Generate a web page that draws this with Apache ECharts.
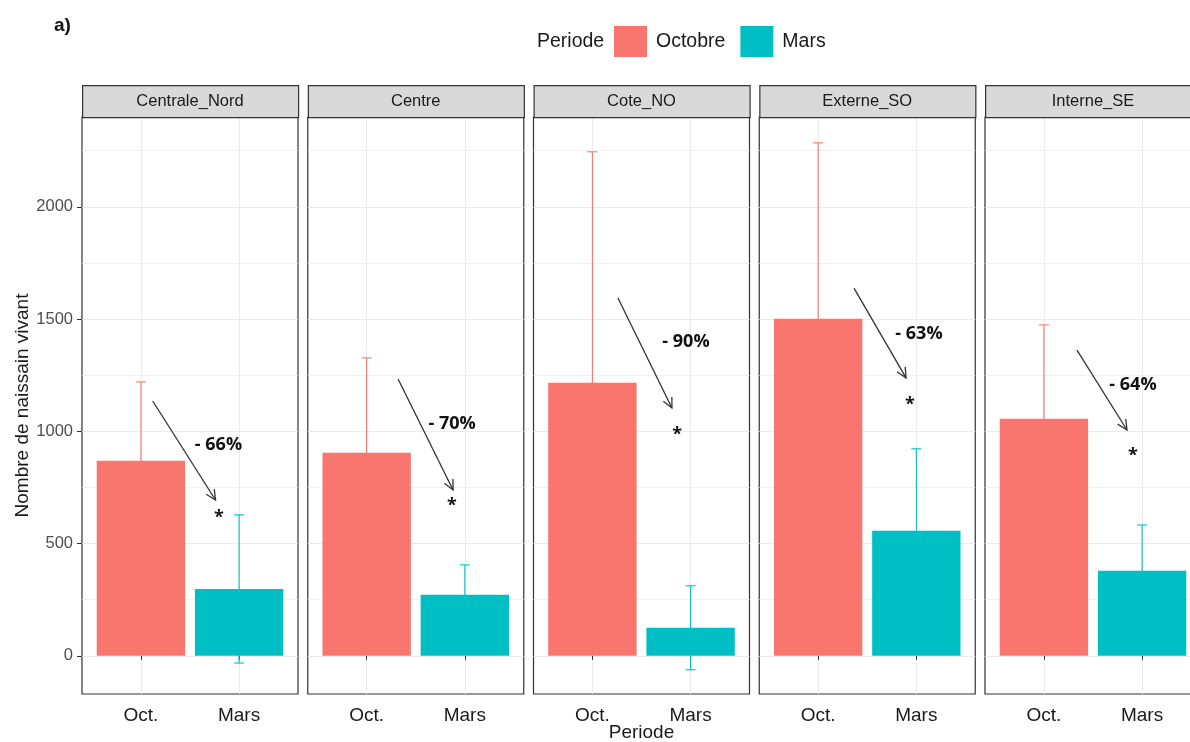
<!DOCTYPE html>
<html><head><meta charset="utf-8">
<script src="https://cdn.jsdelivr.net/npm/echarts@6/dist/echarts.min.js"></script>
<style>html,body{margin:0;padding:0;background:#fff}#c{width:1190px;height:742px}</style>
</head><body><div id="c"></div>
<script>
// ---- data ----
const regions = ['Centrale_Nord', 'Centre', 'Cote_NO', 'Externe_SO', 'Interne_SE'];
const periods = ['Octobre', 'Mars'];
const xLabels = ['Oct.', 'Mars'];
const octMean = [869, 904, 1216, 1501, 1056];
const octErr = [351, 423, 1029, 784, 418];
const marsMean = [298, 272, 125, 557, 379];
const marsErr = [330, 133, 187, 365, 204];
const yTicks = [0, 500, 1000, 1500, 2000];
const yMinor = [250, 750, 1250, 1750, 2250];
const pctLabels = ['- 66%', '- 70%', '- 90%', '- 63%', '- 64%'];
const arrowFrom = [[1.12, 1135], [1.32, 1233], [1.26, 1594], [1.365, 1638], [1.337, 1362]];
const arrowTo = [[1.76, 694], [1.88, 739], [1.81, 1104], [1.895, 1238], [1.846, 1006]];
const pctPos = [[1.79, 939], [1.87, 1033], [1.953, 1398], [2.027, 1433], [1.907, 1206]];
const starPos = [[1.795, 614], [1.869, 667], [1.862, 983], [1.935, 1117], [1.907, 890]];

// ---- style / layout ----
const colors = ['#F8766D', '#00BFC4'];
const FONT = 'Liberation Sans';
const BOLD = 'Open Sans';
const gLeft0 = 82, gStep = 225.75, gW = 216, gTop = 117, gH = 577;
const stripTop = 85, stripH = 32;
const yMin = -170, yMax = 2400, xMin = 0.4, xMax = 2.6;
const barW = 0.9 * gW / (xMax - xMin);

const chart = echarts.init(document.getElementById('c'), null, {renderer: 'canvas'});

const grids = [], xAxes = [], yAxes = [], seriesList = [], graphics = [];

regions.forEach((r, i) => {
  const L = gLeft0 + gStep * i;
  grids.push({left: L, top: gTop, width: gW, height: gH, show: true,
    borderColor: '#333333', borderWidth: 1.2, backgroundColor: '#ffffff',
    containLabel: false, outerBoundsMode: 'none'});
  xAxes.push({type: 'value', gridIndex: i, min: xMin, max: xMax,
    axisLine: {show: false},
    axisTick: {show: true, customValues: [1, 2], length: 4, lineStyle: {color: '#333333'}},
    axisLabel: {show: true, customValues: [1, 2], margin: 12,
      formatter: v => xLabels[Math.round(v) - 1],
      fontSize: 19, color: '#1a1a1a', fontFamily: FONT},
    splitLine: {show: true, lineStyle: {color: '#ebebeb', width: 1.1}}
  });
  yAxes.push({type: 'value', gridIndex: i, min: yMin, max: yMax,
    axisLine: {show: false},
    axisTick: {show: i === 0, customValues: yTicks, length: 5, lineStyle: {color: '#333333'}},
    axisLabel: {show: i === 0, customValues: yTicks, margin: 9, fontSize: 16.5, color: '#4d4d4d',
      fontFamily: FONT, formatter: v => String(v)},
    splitLine: {show: true, lineStyle: {color: '#ebebeb', width: 1.1}},
    name: i === 0 ? 'Nombre de naissain vivant' : '', nameLocation: 'middle', nameGap: 48,
    nameTextStyle: {fontSize: 19, color: '#1a1a1a', fontFamily: FONT}
  });
  yAxes.push({type: 'value', gridIndex: i, min: yMin, max: yMax,
    axisLine: {show: false},
    axisTick: {show: false, customValues: yMinor},
    axisLabel: {show: false, customValues: yMinor},
    splitLine: {show: true, lineStyle: {color: '#ededed', width: 0.8}}
  });

  // error bars (under bars)
  seriesList.push({type: 'custom', xAxisIndex: i, yAxisIndex: 2 * i, z: 1, silent: true,
    data: [[1, octMean[i] - octErr[i], octMean[i] + octErr[i], 0],
           [2, marsMean[i] - marsErr[i], marsMean[i] + marsErr[i], 1]],
    encode: {x: 0, y: [1, 2]},
    renderItem: (params, api) => {
      const x = api.value(0), lo = api.value(1), hi = api.value(2), ci = api.value(3);
      const t = api.coord([x, hi]), b = api.coord([x, lo]);
      const c = colors[ci], cap = 5, lw = 1.1;
      return {type: 'group', children: [
        {type: 'line', shape: {x1: t[0], y1: t[1], x2: b[0], y2: b[1]}, style: {stroke: c, lineWidth: lw}},
        {type: 'line', shape: {x1: t[0] - cap, y1: t[1], x2: t[0] + cap, y2: t[1]}, style: {stroke: c, lineWidth: lw}},
        {type: 'line', shape: {x1: b[0] - cap, y1: b[1], x2: b[0] + cap, y2: b[1]}, style: {stroke: c, lineWidth: lw}}
      ]};
    }
  });
  seriesList.push({type: 'bar', name: periods[0], xAxisIndex: i, yAxisIndex: 2 * i, z: 2,
    data: [[1, octMean[i]]], barWidth: barW, barGap: '-100%', itemStyle: {color: colors[0]}});
  seriesList.push({type: 'bar', name: periods[1], xAxisIndex: i, yAxisIndex: 2 * i, z: 2,
    data: [[2, marsMean[i]]], barWidth: barW, barGap: '-100%', itemStyle: {color: colors[1]}});
  // annotation
  seriesList.push({type: 'custom', xAxisIndex: i, yAxisIndex: 2 * i, z: 5, silent: true,
    data: [[arrowFrom[i][0], arrowFrom[i][1], arrowTo[i][0], arrowTo[i][1],
            pctPos[i][0], pctPos[i][1], starPos[i][0], starPos[i][1]]],
    encode: {x: [0, 2, 4, 6], y: [1, 3, 5, 7]},
    renderItem: (params, api) => {
      const p1 = api.coord([api.value(0), api.value(1)]);
      const p2 = api.coord([api.value(2), api.value(3)]);
      const pt = api.coord([api.value(4), api.value(5)]);
      const ps = api.coord([api.value(6), api.value(7)]);
      const ang = Math.atan2(p2[1] - p1[1], p2[0] - p1[0]);
      const hl = 11, ha = 0.45;
      const h1 = [p2[0] - hl * Math.cos(ang - ha), p2[1] - hl * Math.sin(ang - ha)];
      const h2 = [p2[0] - hl * Math.cos(ang + ha), p2[1] - hl * Math.sin(ang + ha)];
      const st = {stroke: '#333333', lineWidth: 1.3};
      return {type: 'group', children: [
        {type: 'line', shape: {x1: p1[0], y1: p1[1], x2: p2[0], y2: p2[1]}, style: st},
        {type: 'polyline', shape: {points: [h1, p2, h2]}, style: Object.assign({fill: null}, st)},
        {type: 'text', x: pt[0], y: pt[1], style: {text: pctLabels[i], fill: '#111111',
          font: 'bold 18px "' + BOLD + '"', align: 'center', verticalAlign: 'middle'}},
        {type: 'text', x: ps[0], y: ps[1], style: {text: '*', fill: '#111111',
          font: 'bold 18px "' + BOLD + '"', align: 'center', verticalAlign: 'middle'}}
      ]};
    }
  });

  // facet strip
  graphics.push({type: 'rect', left: L, top: stripTop, shape: {width: gW, height: stripH},
    style: {fill: '#d9d9d9', stroke: '#333333', lineWidth: 1.2}, z: 10});
  graphics.push({type: 'text', x: L + gW / 2, y: stripTop + stripH / 2,
    style: {text: r, fill: '#1a1a1a', font: '16.5px "' + FONT + '"', align: 'center', verticalAlign: 'middle'}, z: 11});
});

graphics.push({type: 'text', x: 54, y: 26, style: {text: 'a)', fill: '#111111',
  font: 'bold 19px "' + FONT + '"', align: 'left', verticalAlign: 'middle'}});
graphics.push({type: 'text', x: 537, y: 42, style: {text: 'Periode', fill: '#1a1a1a',
  font: '19.5px "' + FONT + '"', align: 'left', verticalAlign: 'middle'}});
graphics.push({type: 'text', x: gLeft0 + gStep * 2 + gW / 2, y: 733, style: {text: 'Periode', fill: '#1a1a1a',
  font: '19px "' + FONT + '"', align: 'center', verticalAlign: 'middle'}});

chart.setOption({
  animation: false,
  backgroundColor: '#ffffff',
  legend: {data: periods, left: 614, top: 26, padding: 0, itemWidth: 33, itemHeight: 31, itemGap: 15,
    icon: 'rect', selectedMode: false,
    textStyle: {fontSize: 19.5, color: '#1a1a1a', fontFamily: FONT, padding: [0, 0, 0, 4]}},
  grid: grids, xAxis: xAxes, yAxis: yAxes, series: seriesList, graphic: graphics
});
</script></body></html>
